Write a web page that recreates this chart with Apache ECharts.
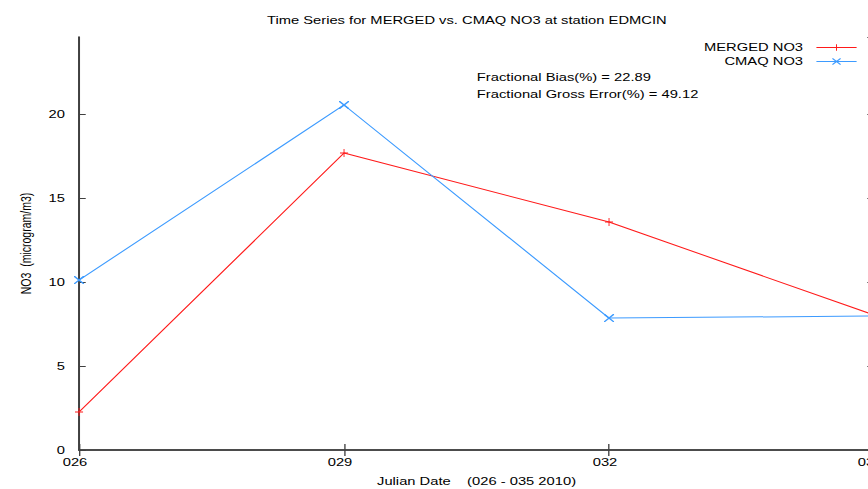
<!DOCTYPE html>
<html><head><meta charset="utf-8">
<script src="https://cdn.jsdelivr.net/npm/echarts@6/dist/echarts.min.js"></script>
<style>
html,body{margin:0;padding:0;background:#fff;overflow:hidden;width:868px;height:489px}
#c{width:648px;height:489px;transform:scaleX(1.3395);transform-origin:0 0}
</style>
</head><body><div id="c"></div>
<script>
const days = [26, 29, 32, 35];
const mergedNO3 = [2.26, 17.69, 13.58, 8.04];
const cmaqNO3 = [10.12, 20.55, 7.86, 7.98];
const xTicks = ['026', '029', '032', '035'];
const statsLines = ['Fractional Bias(%) = 22.89', 'Fractional Gross Error(%) = 49.12'];

const plusSym = 'path://M0,3.55 L8,3.55 L8,4.45 L0,4.45 Z M3.55,0 L4.45,0 L4.45,8 L3.55,8 Z';
const crossSym = 'path://M0,0 L0.9,0 L8,7.1 L8,8 L7.1,8 L0,0.9 Z M8,0 L8,0.9 L0.9,8 L0,8 L0,7.1 L7.1,0 Z';
const font = 'Liberation Sans, Arial, sans-serif';
const axisCol = '#404040';
const red = '#ff1a1a', blue = '#3d9bff';
const chart = echarts.init(document.getElementById('c'), null, { renderer: 'svg' });
chart.setOption({
  animation: false,
  title: { text: 'Time Series for MERGED vs. CMAQ NO3 at station EDMCIN', left: 343.5, textAlign: 'center', top: 10,
    textStyle: { fontSize: 11, fontWeight: 'normal', color: '#000', fontFamily: font } },
  grid: { left: 59, right: -4.5, top: 37, bottom: 39, outerBoundsMode: 'none', containLabel: false },
  legend: { right: 3, top: 37, orient: 'vertical', align: 'right', itemWidth: 30, itemHeight: 8, itemGap: 3,
    textStyle: { fontSize: 11, color: '#000', fontFamily: font, padding: [0, 5, 0, 0] },
    lineStyle: { width: 1 },
    data: ['MERGED NO3', 'CMAQ NO3'] },
  xAxis: [{
    type: 'value', min: 26, max: 35, interval: 3,
    name: 'Julian Date    (026 - 035 2010)', nameLocation: 'middle', nameGap: 26,
    nameTextStyle: { fontSize: 11, color: '#000', fontFamily: font },
    axisLine: { lineStyle: { color: axisCol, width: 1.5 } },
    axisTick: { inside: true, length: 6, lineStyle: { color: axisCol } },
    axisLabel: { fontSize: 11, color: '#000', fontFamily: font, margin: 7, padding: [0, 6, 0, 0],
      formatter: v => xTicks[days.indexOf(v)] ?? '' },
    splitLine: { show: false }
  }, {
    type: 'value', min: 26, max: 35, interval: 3, position: 'top',
    axisLine: { lineStyle: { color: axisCol, width: 1.5 } },
    axisTick: { inside: true, length: 6, lineStyle: { color: axisCol } },
    axisLabel: { show: false }, splitLine: { show: false }
  }],
  yAxis: [{
    type: 'value', min: 0, max: 24.6, interval: 5,
    name: 'NO3  (microgram/m3)', nameLocation: 'middle', nameGap: 32,
    nameTextStyle: { fontSize: 10.5, color: '#000', fontFamily: font },
    axisLine: { show: true, lineStyle: { color: axisCol, width: 1.5 } },
    axisTick: { show: true, inside: true, length: 5, lineStyle: { color: axisCol } },
    axisLabel: { fontSize: 11, color: '#000', fontFamily: font, margin: 10.5, showMaxLabel: false },
    splitLine: { show: false }
  }, {
    type: 'value', min: 0, max: 24.6, interval: 5, position: 'right',
    axisLine: { show: true, lineStyle: { color: axisCol, width: 1.5 } },
    axisTick: { show: true, inside: true, length: 5 }, axisLabel: { show: false }, splitLine: { show: false }
  }],
  graphic: statsLines.map((t, i) => ({
    type: 'text', left: 356, top: 72 + i * 16.5,
    style: { text: t, fontSize: 11, fill: '#000', fontFamily: font }
  })),
  series: [{
    name: 'MERGED NO3', type: 'line', data: days.map((d, i) => [d, mergedNO3[i]]),
    symbol: plusSym, symbolSize: [6, 8], showSymbol: true,
    lineStyle: { color: red, width: 1 }, itemStyle: { color: red }
  }, {
    name: 'CMAQ NO3', type: 'line', data: days.map((d, i) => [d, cmaqNO3[i]]),
    symbol: crossSym, symbolSize: [7.5, 8],
    lineStyle: { color: blue, width: 1 }, itemStyle: { color: blue }
  }]
});
</script></body></html>
